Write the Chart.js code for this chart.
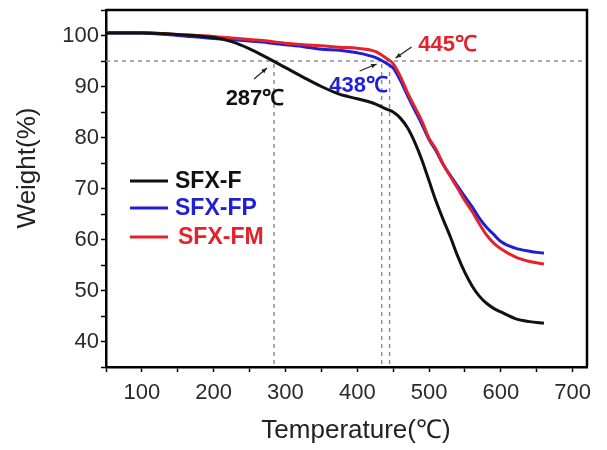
<!DOCTYPE html>
<html>
<head>
<meta charset="utf-8">
<script src="https://cdn.jsdelivr.net/npm/chart.js@4.4.1/dist/chart.umd.min.js"></script>
<style>
  html, body { margin: 0; padding: 0; background: #fff; }
  #wrap { width: 607px; height: 450px; position: relative; }
</style>
</head>
<body>
<div id="wrap"><canvas id="tgaChart"></canvas></div>
<script>
// TGA curves
const temps = [50, 100, 150, 200, 225, 250, 275, 300, 325, 350, 375, 400, 425, 440, 450, 460, 470, 480, 490,
               500, 510, 520, 530, 540, 550, 560, 570, 580, 590, 600, 620, 640, 660];
const sfxF  = [100.5, 100.5, 100.2, 99.6, 98.8, 97.4, 95.6, 93.7, 91.8, 90.0, 88.5, 87.6, 86.6, 85.6, 85.0, 83.8, 81.9, 79.1, 75.6,
               71.5, 67.4, 63.8, 60.4, 56.7, 53.5, 50.9, 48.9, 47.5, 46.5, 45.8, 44.5, 43.9, 43.6];
const sfxFP = [100.5, 100.5, 100.0, 99.4, 99.2, 98.9, 98.6, 98.2, 97.8, 97.3, 97.1, 96.6, 95.7, 94.6, 93.6, 91.2, 88.2, 85.4, 82.6,
               79.6, 77.3, 74.6, 72.5, 70.4, 68.4, 66.4, 64.2, 62.4, 61.0, 59.6, 58.3, 57.7, 57.3];
const sfxFM = [100.6, 100.6, 100.2, 99.8, 99.5, 99.2, 98.9, 98.5, 98.2, 98.0, 97.7, 97.5, 96.9, 95.6, 94.5, 92.0, 88.8, 86.0, 83.2,
               79.8, 77.6, 74.7, 72.3, 70.0, 67.6, 65.5, 63.1, 60.9, 59.3, 58.2, 56.6, 55.7, 55.2];

const seriesNames  = ['SFX-F', 'SFX-FP', 'SFX-FM'];
const seriesColors = ['#111111', '#1f1fd6', '#e3222b'];

// 5 % weight-loss markers
const threshold    = 95;
const onsetTemps   = [284, 434, 445];
const onsetLabels  = ['287\u2103', '438\u2103', '445\u2103'];

const FONT = '"Liberation Sans", Arial, sans-serif';

const annotations = {
  id: 'annotations',
  beforeDatasetsDraw(chart) {
    const { ctx, chartArea: a, scales: { x, y } } = chart;
    const yT = y.getPixelForValue(threshold);
    ctx.save();
    ctx.strokeStyle = '#909090';
    ctx.lineWidth = 1.5;
    ctx.setLineDash([4, 4]);
    ctx.beginPath();
    ctx.moveTo(a.left, yT);
    ctx.lineTo(a.right, yT);
    onsetTemps.forEach(t => {
      const px = x.getPixelForValue(t);
      ctx.moveTo(px, yT + 3);
      ctx.lineTo(px, a.bottom);
    });
    ctx.stroke();
    ctx.restore();
  },
  afterDraw(chart) {
    const { ctx, chartArea: a, scales: { x, y } } = chart;
    ctx.save();

    // frame top/right
    ctx.strokeStyle = '#000';
    ctx.lineWidth = 2.5;
    ctx.beginPath();
    ctx.moveTo(a.left, a.top);
    ctx.lineTo(a.right, a.top);
    ctx.lineTo(a.right, a.bottom);
    ctx.stroke();

    // onset labels and arrows
    const yT = y.getPixelForValue(threshold);
    const offs = [
      { lx: -19, ly: 38, hx: -7, hy: 7, tx: -20, ty: 18 },
      { lx: -23, ly: 25, hx: -5, hy: 3, tx: -22, ty: 10 },
      { lx: 58, ly: -16, hx: 6, hy: -3, tx: 22, ty: -14 }
    ];
    onsetTemps.forEach((t, i) => {
      const px = x.getPixelForValue(t);
      const o = offs[i];
      const hx = px + o.hx, hy = yT + o.hy, tx = px + o.tx, ty = yT + o.ty;
      ctx.strokeStyle = '#222';
      ctx.fillStyle = '#222';
      ctx.lineWidth = 1.2;
      ctx.beginPath();
      ctx.moveTo(tx, ty);
      ctx.lineTo(hx, hy);
      ctx.stroke();
      const ang = Math.atan2(hy - ty, hx - tx);
      ctx.beginPath();
      ctx.moveTo(hx, hy);
      ctx.lineTo(hx - 6 * Math.cos(ang - 0.4), hy - 6 * Math.sin(ang - 0.4));
      ctx.lineTo(hx - 6 * Math.cos(ang + 0.4), hy - 6 * Math.sin(ang + 0.4));
      ctx.closePath();
      ctx.fill();

      ctx.fillStyle = seriesColors[i];
      ctx.font = 'bold 22px ' + FONT;
      ctx.textAlign = 'center';
      ctx.textBaseline = 'middle';
      ctx.fillText(onsetLabels[i], px + o.lx, yT + o.ly);
    });

    // legend
    const legY = [181, 208, 237];
    const legTextX = [175, 175, 178];
    seriesNames.forEach((n, i) => {
      ctx.strokeStyle = seriesColors[i];
      ctx.lineWidth = 3;
      ctx.beginPath();
      ctx.moveTo(130, legY[i]);
      ctx.lineTo(168, legY[i]);
      ctx.stroke();
      ctx.fillStyle = seriesColors[i];
      ctx.font = 'bold 23px ' + FONT;
      ctx.textAlign = 'left';
      ctx.textBaseline = 'middle';
      ctx.fillText(n, legTextX[i], legY[i] + 1);
    });

    // axis titles
    ctx.fillStyle = '#222';
    ctx.font = '26px ' + FONT;
    ctx.textAlign = 'center';
    ctx.textBaseline = 'middle';
    ctx.fillText('Temperature(\u2103)', 356, 431);
    ctx.translate(28, 168);
    ctx.rotate(-Math.PI / 2);
    ctx.fillText('Weight(%)', 0, 0);
    ctx.restore();
  }
};

const ctx = document.getElementById('tgaChart').getContext('2d');
new Chart(ctx, {
  type: 'line',
  data: {
    labels: temps,
    datasets: [
      { label: seriesNames[0], data: sfxF,  borderColor: seriesColors[0], order: 0 },
      { label: seriesNames[1], data: sfxFP, borderColor: seriesColors[1], order: 2 },
      { label: seriesNames[2], data: sfxFM, borderColor: seriesColors[2], order: 1 }
    ].map(d => ({
      ...d,
      data: d.data.map((v, i) => ({ x: temps[i], y: v })),
      borderWidth: 3,
      pointRadius: 0,
      fill: false,
      cubicInterpolationMode: 'monotone'
    }))
  },
  options: {
    responsive: true,
    maintainAspectRatio: false,
    animation: false,
    layout: { padding: { left: 0, top: 10, right: 20, bottom: 0 } },
    plugins: { legend: { display: false }, tooltip: { enabled: false } },
    scales: {
      x: {
        type: 'linear',
        min: 50,
        max: 720,
        afterFit: s => { s.height = 83; s.paddingLeft = 0; s.paddingRight = 0; },
        border: { display: true, color: '#000', width: 2.5 },
        grid: { drawOnChartArea: false, drawTicks: true, tickLength: 5, tickColor: '#000', tickWidth: 1.5 },
        ticks: {
          stepSize: 50,
          includeBounds: false,
          maxRotation: 0,
          autoSkip: false,
          padding: 8,
          color: '#2a2a2a',
          font: { family: FONT, size: 22 },
          callback: v => (v % 100 === 0 ? v : '')
        }
      },
      y: {
        min: 35,
        max: 105,
        afterFit: s => { s.width = 106; s.paddingTop = 0; s.paddingBottom = 0; },
        border: { display: true, color: '#000', width: 2.5 },
        grid: { drawOnChartArea: false, drawTicks: true, tickLength: 5, tickColor: '#000', tickWidth: 1.5 },
        ticks: {
          stepSize: 5,
          includeBounds: false,
          autoSkip: false,
          padding: 2,
          color: '#2a2a2a',
          font: { family: FONT, size: 22 },
          callback: v => (v % 10 === 0 ? v : '')
        }
      }
    }
  },
  plugins: [annotations]
});
</script>
</body>
</html>
